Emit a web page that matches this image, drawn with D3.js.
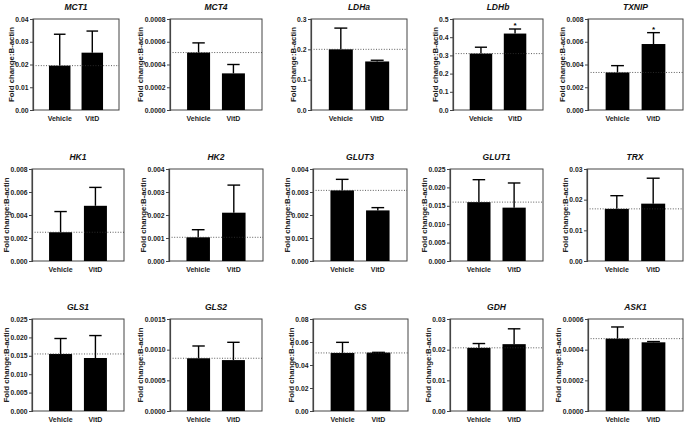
<!DOCTYPE html>
<html><head><meta charset="utf-8">
<script src="https://cdn.jsdelivr.net/npm/d3@7"></script>
<style>
body{margin:0;background:#fff;}
svg{display:block;font-family:"Liberation Sans",Arial,sans-serif;}
</style></head><body>
<svg id="c" width="685" height="424"></svg>
<script>
const genes      = ["MCT1","MCT4","LDHa","LDHb","TXNIP","HK1","HK2","GLUT3","GLUT1","TRX","GLS1","GLS2","GS","GDH","ASK1"];
const groups     = ["Vehicle","VitD"];
const vehicleMean= [0.0195,0.000505,0.200,0.310,0.0033,0.0025,0.00103,0.00307,0.0160,0.0170,0.0155,0.00086,0.0505,0.0206,0.000472];
const vehicleTop = [0.0333,0.000590,0.270,0.345,0.0039,0.0043,0.00136,0.00355,0.0221,0.0213,0.0197,0.00106,0.0597,0.0220,0.000548];
const vitdMean   = [0.0252,0.000322,0.160,0.420,0.0058,0.0048,0.00210,0.00220,0.0145,0.0187,0.0144,0.00083,0.0508,0.0218,0.000448];
const vitdTop    = [0.0347,0.000400,0.164,0.445,0.0068,0.0064,0.00330,0.00232,0.0212,0.0270,0.0205,0.00112,0.0510,0.0268,0.000453];
const vitdSig    = [false,false,false,true,true,false,false,false,false,false,false,false,false,false,false];
const tickLabels = [
  ["0.00","0.01","0.02","0.03","0.04"],
  ["0.0000","0.0002","0.0004","0.0006","0.0008"],
  ["0.0","0.1","0.2","0.3"],
  ["0.0","0.1","0.2","0.3","0.4","0.5"],
  ["0.000","0.002","0.004","0.006","0.008"],
  ["0.000","0.002","0.004","0.006","0.008"],
  ["0.000","0.001","0.002","0.003","0.004"],
  ["0.000","0.001","0.002","0.003","0.004"],
  ["0.000","0.005","0.010","0.015","0.020","0.025"],
  ["0.00","0.01","0.02","0.03"],
  ["0.000","0.005","0.010","0.015","0.020","0.025"],
  ["0.0000","0.0005","0.0010","0.0015"],
  ["0.00","0.02","0.04","0.06","0.08"],
  ["0.00","0.01","0.02","0.03"],
  ["0.0000","0.0002","0.0004","0.0006"]
];
const yLabel = "Fold change:B-actin";

// layout (plot-box edges, px)
const boxLeft  = [33,170,311,453,588, 32,169,313,450,587, 32,170,313,450,588];
const boxRight = [119,262,407,543,683, 124,263,407,543,683, 124,262,408,543,683];
const rowTop    = [19,169,319];
const rowBottom = [110,261,411];

const svg = d3.select("#c");
const frameCol = "#444";

genes.forEach((g,i)=>{
  const r = Math.floor(i/5);
  const L = boxLeft[i], R = boxRight[i], T = rowTop[r], B = rowBottom[r];
  const w = R-L, h = B-T;
  const ticks = tickLabels[i].map(Number);
  const y = d3.scaleLinear().domain([0, ticks[ticks.length-1]]).range([B, T]);
  const x = d3.scaleBand().domain(groups).range([L, R]).paddingInner(0.34).paddingOuter(0.49);
  const gEl = svg.append("g");

  gEl.append("rect").attr("x",L).attr("y",T).attr("width",w).attr("height",h)
    .attr("fill","none").attr("stroke",frameCol).attr("stroke-width",1);

  const means=[vehicleMean[i], vitdMean[i]], tops=[vehicleTop[i], vitdTop[i]];
  groups.forEach((grp,k)=>{
    const bx = x(grp), bw = x.bandwidth(), cx = bx + bw/2;
    gEl.append("line").attr("x1",cx).attr("x2",cx).attr("y1",y(means[k])).attr("y2",y(tops[k]))
      .attr("stroke","#000").attr("stroke-width",1.4);
    gEl.append("line").attr("x1",cx-bw*0.27).attr("x2",cx+bw*0.27).attr("y1",y(tops[k])).attr("y2",y(tops[k]))
      .attr("stroke","#000").attr("stroke-width",1.4);
    gEl.append("rect").attr("x",bx).attr("y",y(means[k])).attr("width",bw).attr("height",B-y(means[k]))
      .attr("fill","#000");
    if(k===1 && vitdSig[i]){
      gEl.append("text").attr("x",cx).attr("y",y(tops[k])-1).attr("text-anchor","middle")
        .attr("font-size",8).attr("font-weight","bold").text("*");
    }
    gEl.append("text").attr("x",cx).attr("y",B+10.5).attr("text-anchor","middle")
      .attr("font-size",7).attr("font-weight","bold").attr("fill","#222").text(grp);
  });

  gEl.append("line").attr("x1",L).attr("x2",R).attr("y1",y(vehicleMean[i])).attr("y2",y(vehicleMean[i]))
    .attr("stroke","#333").attr("stroke-width",0.8).attr("stroke-dasharray","1,1.6");

  const ax = d3.axisLeft(y).tickValues(ticks).tickSize(3).tickPadding(1.5)
    .tickFormat((d,j)=>tickLabels[i][j]);
  const axG = gEl.append("g").attr("transform",`translate(${L},0)`).call(ax);
  axG.select(".domain").attr("stroke",frameCol).attr("stroke-width",1.2);
  axG.selectAll(".tick line").attr("stroke",frameCol);
  axG.selectAll("text").attr("font-size",6.8).attr("font-weight","bold").attr("fill","#222")
    .attr("font-family","Liberation Sans, Arial, sans-serif");
  let maxW = 0;
  axG.selectAll("text").each(function(){ maxW = Math.max(maxW, this.getComputedTextLength()); });

  const lx = L - 3 - 1.5 - maxW - 1.5;
  gEl.append("text").attr("transform",`translate(${lx},${(T+B)/2}) rotate(-90)`)
    .attr("text-anchor","middle").attr("font-size",7.8).attr("font-weight","bold").attr("fill","#222")
    .text(yLabel);

  gEl.append("text").attr("x",(L+R)/2).attr("y",T-9).attr("text-anchor","middle")
    .attr("font-size",8.5).attr("font-weight","bold").attr("font-style","italic").attr("fill","#111")
    .text(g);
});
</script>
</body></html>
